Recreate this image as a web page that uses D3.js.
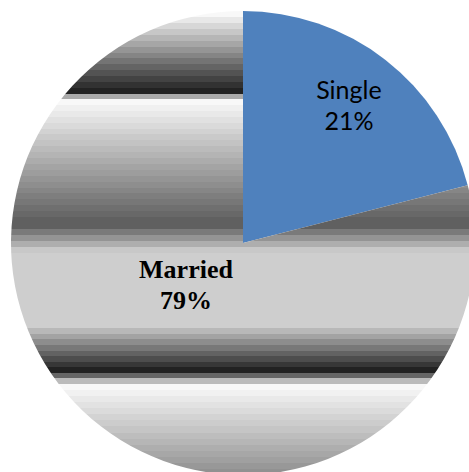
<!DOCTYPE html>
<html>
<head>
<meta charset="utf-8">
<script src="https://cdn.jsdelivr.net/npm/d3@7"></script>
<style>
  html, body { margin: 0; padding: 0; background: #fff; overflow: hidden; }
  svg { display: block; }
</style>
</head>
<body>
<svg id="chart" width="469" height="472"></svg>
<script>
// Marital status shares
const categories = ["Single", "Married"];
const shares = [21, 79];
const shareLabels = ["21%", "79%"];

const W = 469, H = 472;
const cx = 243, cy = 243, R = 232;

const svg = d3.select("#chart");
const defs = svg.append("defs");

// Banded gray "chrome" ramp used for the Married slice.
// Each entry: [start, end] in px from the top of the pie box, [gray at start, gray at end].
const ramps = [
  [0, 83, 248, 34],
  [83, 88, 170, 170],
  [88, 212, 248, 96],
  [212, 242, 96, 200],
  [242, 317, 206, 206],
  [317, 362, 184, 34],
  [362, 367, 102, 102],
  [367, 373, 187, 187],
  [373, 464, 248, 145]
];
const boxH = 2 * R;
// Gradient coordinates are in the slice group's local space (origin at the pie centre)
const grad = defs.append("linearGradient")
  .attr("id", "married-fill")
  .attr("gradientUnits", "userSpaceOnUse")
  .attr("x1", 0).attr("y1", -R)
  .attr("x2", 0).attr("y2", R);

ramps.forEach(([y0, y1, g0, g1]) => {
  const len = y1 - y0;
  const n = Math.max(1, Math.round(len / 6));
  for (let i = 0; i < n; i++) {
    const g = Math.round(n > 1 ? g0 + (g1 - g0) * i / (n - 1) : g0);
    const c = d3.rgb(g, g, g).formatHex();
    const a = (y0 + len * i / n) / boxH;
    const b = (y0 + len * (i + 1) / n) / boxH;
    grad.append("stop").attr("offset", a).attr("stop-color", c);
    grad.append("stop").attr("offset", b).attr("stop-color", c);
  }
});

const fills = ["#4f81bd", "url(#married-fill)"];

const pie = d3.pie().sort(null).value(d => d)(shares);
const arc = d3.arc().innerRadius(0).outerRadius(R);

const g = svg.append("g").attr("transform", `translate(${cx},${cy})`);

g.selectAll("path.slice")
  .data(pie)
  .join("path")
  .attr("class", "slice")
  .attr("d", arc)
  .attr("fill", (d, i) => fills[i]);

// Label placement: polar position (degrees clockwise from 12 o'clock, fraction of radius)
const labelPlace = [
  { angle: 37.5, radius: 0.75 },
  { angle: 235, radius: 0.30 }
];
const labelFont = [
  { family: "Lato, 'Open Sans', sans-serif", size: 25, weight: "normal", lead: 31 },
  { family: "'Liberation Serif', 'Times New Roman', serif", size: 26, weight: "bold", lead: 31 }
];

pie.forEach((d, i) => {
  const p = labelPlace[i], f = labelFont[i];
  const a = p.angle * Math.PI / 180;
  const x = Math.sin(a) * R * p.radius;
  const y = -Math.cos(a) * R * p.radius;
  const t = g.append("text")
    .attr("text-anchor", "middle")
    .attr("font-family", f.family)
    .attr("font-size", f.size)
    .attr("font-weight", f.weight)
    .attr("fill", "#000");
  t.append("tspan").attr("x", x).attr("y", y - f.lead / 2 + f.size * 0.35 + 1).text(categories[i]);
  t.append("tspan").attr("x", x).attr("y", y + f.lead / 2 + f.size * 0.35 + 1).text(shareLabels[i]);
});
</script>
</body>
</html>
